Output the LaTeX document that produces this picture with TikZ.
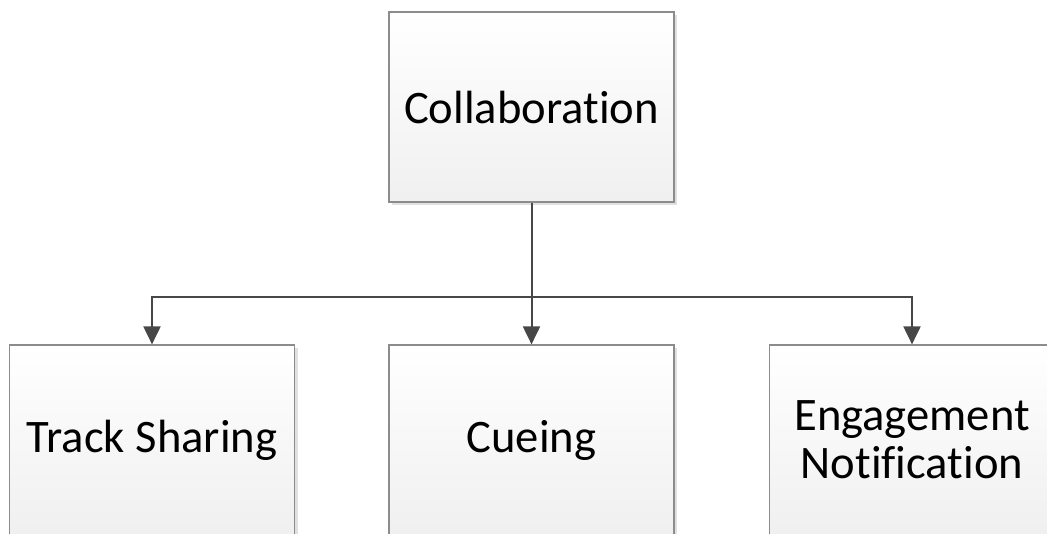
\documentclass[tikz,border=0pt]{standalone}
\usepackage{fontspec}
\setmainfont{Carlito}[Ligatures={NoCommon}]
\usetikzlibrary{arrows.meta,shadows}
\begin{document}
\begin{tikzpicture}[x=1pt,y=-1pt,
  box/.style={draw=black!45, line width=1.2pt,
    top color=white, bottom color=black!6,
    minimum width=285pt, minimum height=190pt,
    inner sep=0pt, align=center,
    font=\fontsize{46.6}{48}\selectfont,
    drop shadow={shadow xshift=3pt, shadow yshift=-3pt,
      fill=black!12, opacity=1}},
  wire/.style={draw=black!72, line width=2pt},
  link/.style={wire, -{Triangle[width=17pt,length=18pt]}}]
  \useasboundingbox (0,0) rectangle (1047,533);
  \clip (0,0) rectangle (1047,533);
  \node[box] (collab) at (531.5,107) {Collaboration};
  \node[box] (track)  at (152,440)   {Track Sharing};
  \node[box] (cue)    at (531.5,440) {Cueing};
  \node[box] (engage) at (912,440)   {Engagement\\Notification};
  \coordinate (bus) at (531.5,297);
  \draw[wire] (collab.south) -- (bus);
  \draw[link] (bus) -| (track.north);
  \draw[link] (bus) -- (cue.north);
  \draw[link] (bus) -| (engage.north);
\end{tikzpicture}
\end{document}
